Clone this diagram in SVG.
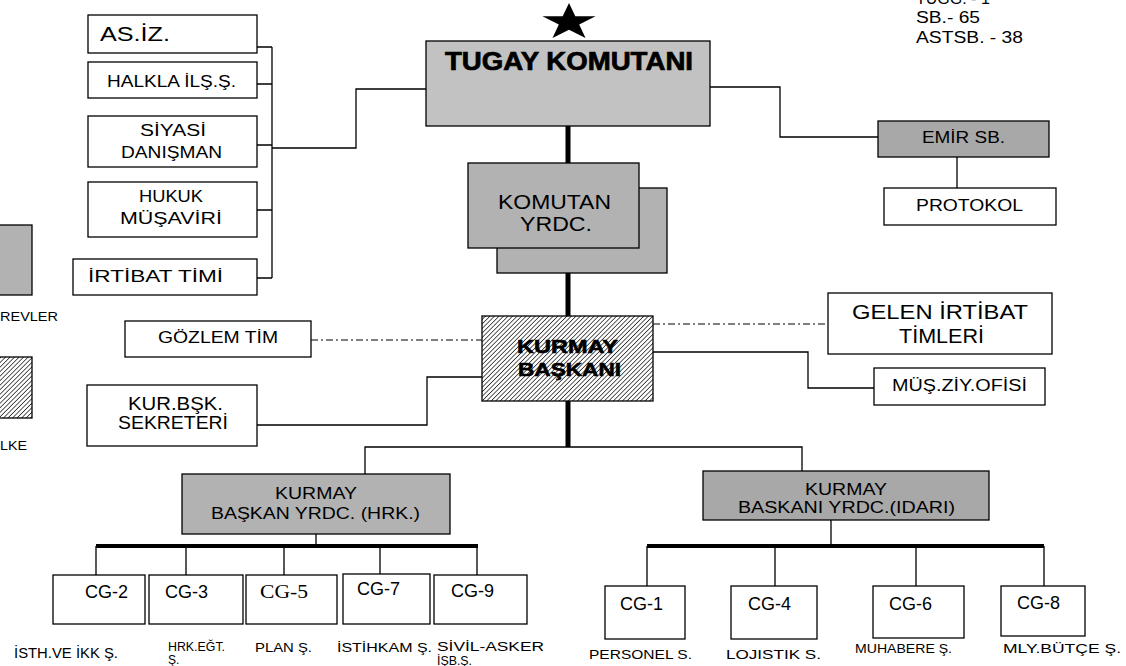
<svg xmlns="http://www.w3.org/2000/svg" width="1126" height="666" viewBox="0 0 1126 666">
<defs>
<pattern id="hatch" width="3.2" height="3.2" patternUnits="userSpaceOnUse" patternTransform="rotate(45)">
<rect width="3.2" height="3.2" fill="#ffffff"/>
<line x1="0" y1="0" x2="0" y2="3.2" stroke="#000" stroke-width="1.3"/>
</pattern>
<style>
text{font-family:"Liberation Sans",Arial,sans-serif;fill:#000;}
.box{fill:#fff;stroke:#000;stroke-width:1.3;}
.g1{fill:#c2c2c2;stroke:#000;stroke-width:1.3;}
.g2{fill:#b2b2b2;stroke:#000;stroke-width:1.3;}
.g3{fill:#a8a8a8;stroke:#000;stroke-width:1.3;}
.hb{fill:url(#hatch);stroke:#000;stroke-width:1.3;}
.ln{fill:none;stroke:#000;stroke-width:1.3;}
.thick{fill:none;stroke:#000;stroke-width:5;}
.bar{fill:none;stroke:#000;stroke-width:4;}
.dd{fill:none;stroke:#000;stroke-width:1;stroke-dasharray:7 3 2 3;}
.t18{font-size:18px;}
.t16{font-size:16px;}
.t14{font-size:14px;}
.t13{font-size:13px;}
.t12{font-size:12px;}
.cg{font-size:18px;}
.b{font-weight:bold;}
</style>
</defs>
<rect width="1126" height="666" fill="#fff"/>

<g id="connectors">
<path class="ln" d="M272 47 V278 M257 47 H272 M257 84 H272 M257 145 H272 M257 210 H272 M257 278 H272"/>
<path class="ln" d="M272 148 H356 V89 H426"/>
<path class="ln" d="M710 87 H780 V137 H878"/>
<path class="ln" d="M957 157 V188"/>
<path class="thick" d="M568 126 V163 M568 273 V316 M568 401 V447"/>
<path class="ln" d="M365 474 V447 H802 V471" stroke-width="1.6"/>
<path class="dd" d="M311 340 H482"/>
<path class="ln" d="M257 425 H427 V377 H482"/>
<path class="dd" d="M653 324 H828"/>
<path class="ln" d="M653 352 H808 V388 H874"/>
<path class="ln" d="M316 534 V546"/>
<path class="bar" d="M96 546 H478"/>
<path class="ln" d="M96 546 V575 M186 546 V575 M284 546 V575 M380 546 V574 M477 546 V575"/>
<path class="ln" d="M831 520 V546"/>
<path class="bar" d="M647 546 H1044"/>
<path class="ln" d="M647 546 V586 M775 546 V586 M916 546 V586 M1044 546 V586"/>
</g>

<g id="legend">
<rect class="g2" x="-2" y="225" width="34" height="70"/>
<text class="t13" x="0" y="321" textLength="58" lengthAdjust="spacingAndGlyphs">REVLER</text>
<rect class="hb" x="-2" y="357" width="34" height="61"/>
<text class="t13" x="0" y="450" textLength="27" lengthAdjust="spacingAndGlyphs">LKE</text>
</g>

<g id="strength">
<text class="t16" x="916" y="4">TUGG. - 1</text>
<text class="t16" x="916" y="23" textLength="64" lengthAdjust="spacingAndGlyphs">SB.- 65</text>
<text class="t16" x="916" y="43" textLength="107" lengthAdjust="spacingAndGlyphs">ASTSB. - 38</text>
</g>

<g id="n-asiz">
<rect class="box" x="88" y="15" width="169" height="38"/>
<text x="100" y="41" style="font-size:20px" textLength="70" lengthAdjust="spacingAndGlyphs">AS.İZ.</text>
</g>
<g id="n-halkla">
<rect class="box" x="88" y="62" width="169" height="36"/>
<text class="t16" x="107" y="87" textLength="129" lengthAdjust="spacingAndGlyphs">HALKLA İLŞ.Ş.</text>
</g>
<g id="n-siyasi">
<rect class="box" x="88" y="116" width="169" height="51"/>
<text class="t16" x="140" y="136" textLength="66" lengthAdjust="spacingAndGlyphs">SİYASİ</text>
<text class="t16" x="121" y="158" textLength="101" lengthAdjust="spacingAndGlyphs">DANIŞMAN</text>
</g>
<g id="n-hukuk">
<rect class="box" x="88" y="182" width="169" height="55"/>
<text class="t16" x="139" y="202" textLength="64" lengthAdjust="spacingAndGlyphs">HUKUK</text>
<text class="t16" x="120" y="224" textLength="102" lengthAdjust="spacingAndGlyphs">MÜŞAVİRİ</text>
</g>
<g id="n-irtibat">
<rect class="box" x="73" y="259" width="184" height="36"/>
<text class="t16" x="88" y="282" textLength="135" lengthAdjust="spacingAndGlyphs">İRTİBAT TİMİ</text>
</g>

<g id="n-tugay">
<polygon fill="#000" points="569,3 575.3,16.3 595.6,16.3 579.2,24.6 585.5,37.9 569,29.7 552.5,37.9 558.8,24.6 542.4,16.3 562.7,16.3"/>
<rect class="g1" x="426" y="41" width="284" height="85"/>
<text class="b" x="445" y="70" style="font-size:25px" stroke="#000" stroke-width="0.7" textLength="248" lengthAdjust="spacingAndGlyphs">TUGAY KOMUTANI</text>
</g>

<g id="n-emir">
<rect class="g3" x="878" y="121" width="171" height="36"/>
<text class="t16" x="922" y="143" textLength="83" lengthAdjust="spacingAndGlyphs">EMİR SB.</text>
</g>
<g id="n-protokol">
<rect class="box" x="884" y="188" width="172" height="37"/>
<text class="t16" x="916" y="211" textLength="107" lengthAdjust="spacingAndGlyphs">PROTOKOL</text>
</g>

<g id="n-komutan-yrdc">
<rect class="g2" x="497" y="188" width="170" height="85"/>
<rect class="g2" x="468" y="163" width="171" height="85"/>
<text x="498" y="209" style="font-size:21px" textLength="113" lengthAdjust="spacingAndGlyphs">KOMUTAN</text>
<text x="520" y="231" style="font-size:21px" textLength="72" lengthAdjust="spacingAndGlyphs">YRDC.</text>
</g>

<g id="n-gozlem">
<rect class="box" x="125" y="321" width="186" height="36"/>
<text class="t16" x="158" y="343" textLength="120" lengthAdjust="spacingAndGlyphs">GÖZLEM TİM</text>
</g>
<g id="n-kurbsk">
<rect class="box" x="87" y="385" width="170" height="61"/>
<text x="128" y="410" style="font-size:18px" textLength="95" lengthAdjust="spacingAndGlyphs">KUR.BŞK.</text>
<text x="118" y="429" style="font-size:18px" textLength="110" lengthAdjust="spacingAndGlyphs">SEKRETERİ</text>
</g>

<g id="n-kurmay">
<rect class="hb" x="482" y="316" width="171" height="85"/>
<text class="b" x="517" y="353" style="font-size:19px" stroke="#000" stroke-width="0.6" textLength="101" lengthAdjust="spacingAndGlyphs">KURMAY</text>
<text class="b" x="518" y="376" style="font-size:19px" stroke="#000" stroke-width="0.6" textLength="103" lengthAdjust="spacingAndGlyphs">BAŞKANI</text>
</g>

<g id="n-gelen">
<rect class="box" x="828" y="293" width="224" height="61"/>
<text x="852" y="319" style="font-size:21px" textLength="176" lengthAdjust="spacingAndGlyphs">GELEN İRTİBAT</text>
<text x="899" y="343" style="font-size:21px" textLength="85" lengthAdjust="spacingAndGlyphs">TİMLERİ</text>
</g>
<g id="n-musziy">
<rect class="box" x="874" y="368" width="171" height="37"/>
<text class="t16" x="892" y="391" textLength="135" lengthAdjust="spacingAndGlyphs">MÜŞ.ZİY.OFİSİ</text>
</g>

<g id="n-hrk">
<rect class="g2" x="182" y="474" width="268" height="60"/>
<text class="t16" x="275" y="499" textLength="82" lengthAdjust="spacingAndGlyphs">KURMAY</text>
<text class="t16" x="211" y="519" textLength="209" lengthAdjust="spacingAndGlyphs">BAŞKAN YRDC. (HRK.)</text>
</g>
<g id="n-idari">
<rect class="g3" x="703" y="471" width="286" height="49"/>
<text class="t16" x="805" y="495" textLength="82" lengthAdjust="spacingAndGlyphs">KURMAY</text>
<text class="t16" x="738" y="513" textLength="217" lengthAdjust="spacingAndGlyphs">BASKANI YRDC.(IDARI)</text>
</g>

<g id="n-cg2">
<rect class="box" x="53" y="575" width="92" height="49"/>
<text class="cg" x="85" y="598">CG-2</text>
<text class="t14" x="14" y="658" textLength="104" lengthAdjust="spacingAndGlyphs">İSTH.VE İKK Ş.</text>
</g>
<g id="n-cg3">
<rect class="box" x="149" y="575" width="94" height="49"/>
<text class="cg" x="165" y="598">CG-3</text>
<text class="t12" x="168" y="651" textLength="57" lengthAdjust="spacingAndGlyphs">HRK.EĞT.</text>
<text class="t12" x="168" y="664">Ş.</text>
</g>
<g id="n-cg5">
<rect class="box" x="246" y="575" width="91" height="49"/>
<text x="260" y="598" style="font-family:'Liberation Serif','Times New Roman',serif;font-size:19px" textLength="48" lengthAdjust="spacingAndGlyphs">CG-5</text>
<text class="t13" x="255" y="652" textLength="57" lengthAdjust="spacingAndGlyphs">PLAN  Ş.</text>
</g>
<g id="n-cg7">
<rect class="box" x="343" y="574" width="87" height="50"/>
<text class="cg" x="357" y="595">CG-7</text>
<text class="t13" x="337" y="652" textLength="95" lengthAdjust="spacingAndGlyphs">İSTİHKAM Ş.</text>
</g>
<g id="n-cg9">
<rect class="box" x="434" y="575" width="93" height="49"/>
<text class="cg" x="451" y="597">CG-9</text>
<text class="t12" x="437" y="651" textLength="107" lengthAdjust="spacingAndGlyphs">SİVİL-ASKER</text>
<text class="t12" x="437" y="665" textLength="35" lengthAdjust="spacingAndGlyphs">İŞB.Ş.</text>
</g>

<g id="n-cg1">
<rect class="box" x="605" y="586" width="80" height="53"/>
<text class="cg" x="620" y="610">CG-1</text>
<text class="t13" x="589" y="659" textLength="103" lengthAdjust="spacingAndGlyphs">PERSONEL S.</text>
</g>
<g id="n-cg4">
<rect class="box" x="731" y="586" width="86" height="53"/>
<text class="cg" x="748" y="610">CG-4</text>
<text class="t13" x="726" y="659" textLength="95" lengthAdjust="spacingAndGlyphs">LOJISTIK S.</text>
</g>
<g id="n-cg6">
<rect class="box" x="873" y="586" width="91" height="52"/>
<text class="cg" x="889" y="610">CG-6</text>
<text class="t13" x="855" y="653" textLength="97" lengthAdjust="spacingAndGlyphs">MUHABERE Ş.</text>
</g>
<g id="n-cg8">
<rect class="box" x="1001" y="586" width="84" height="50"/>
<text class="cg" x="1017" y="609">CG-8</text>
<text class="t13" x="1003" y="653" textLength="118" lengthAdjust="spacingAndGlyphs">MLY.BÜTÇE Ş.</text>
</g>
</svg>
